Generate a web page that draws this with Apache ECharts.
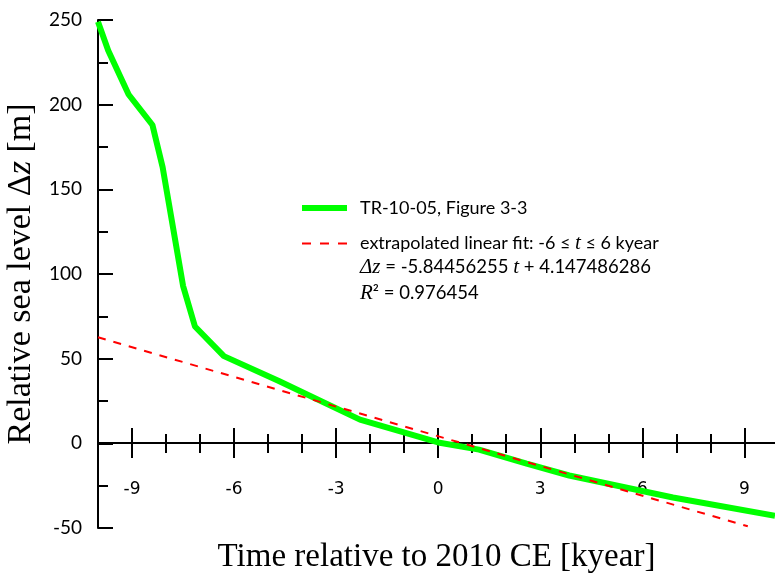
<!DOCTYPE html>
<html>
<head>
<meta charset="utf-8">
<script src="https://cdn.jsdelivr.net/npm/echarts@6/dist/echarts.min.js"></script>
<style>
  html, body { margin: 0; padding: 0; background: #fff; }
  #main { width: 775px; height: 575px; }
</style>
</head>
<body>
<div id="main"></div>
<script>
// sea level curve: [t kyear, dz m]
const trCurve = [
  [-10, 249], [-9.7, 232], [-9.1, 206], [-8.4, 188], [-8.1, 163],
  [-7.5, 93], [-7.15, 69], [-6.3, 51.5], [-4.7, 37], [-2.3, 14],
  [0, 0.5], [1.2, -3.7], [2.6, -12], [3.85, -19], [6.9, -32], [9.9, -42.8]
]
// dashed linear fit, two end points
const fitLine = [[-10, 62.6], [9.1, -49]]

const xMajor = [-9, -6, -3, 0, 3, 6, 9]
const xMinor = [-8, -7, -5, -4, -2, -1, 1, 2, 4, 5, 7, 8]
const yTicks = { min: -50, max: 250, step: 50 }
const xRange = { min: -10, max: 9.9 }

const chart = echarts.init(document.getElementById('main'))

// grid 0 = plot, grid 1 = strip between y=0 and y=-50 whose top edge is the zero line.
// The visible x axis lives on the top edge of grid 1 (ticks up + down).
function tickAxis(inside, len, vals, showLine) {
  return {
    type: 'value',
    gridIndex: 1,
    position: 'top',
    min: xRange.min,
    max: xRange.max,
    axisLine: { show: showLine, onZero: false, lineStyle: { color: '#000', width: 2 } },
    axisTick: { show: true, inside: inside, length: len, customValues: vals, lineStyle: { color: '#000', width: 2 } },
    axisLabel: { show: false },
    splitLine: { show: false }
  }
}

const labelAxis = tickAxis(false, 15, xMajor, true)
labelAxis.axisLabel = {
  show: true,
  inside: true,
  customValues: xMajor,
  margin: 38,
  color: '#000',
  fontFamily: 'DejaVu Sans',
  fontSize: 17
}

const legendRich = {
  n: { fontFamily: 'Lato', fontSize: 18, color: '#000' },
  i: { fontFamily: 'Liberation Serif', fontStyle: 'italic', fontSize: 21, color: '#000' }
}
const eqRich = {
  n: { fontFamily: 'Lato', fontSize: 18.5, fill: '#000' },
  i: { fontFamily: 'Liberation Serif', fontStyle: 'italic', fontSize: 21, fill: '#000' }
}

const option = {
  animation: false,
  backgroundColor: '#fff',
  grid: [
    { left: 98, right: 0, top: 20, bottom: 47, containLabel: false, outerBoundsMode: 'none' },
    { left: 98, right: 0, top: 443, bottom: 47, containLabel: false, outerBoundsMode: 'none' }
  ],
  xAxis: [
    { type: 'value', gridIndex: 0, min: xRange.min, max: xRange.max, show: false },
    labelAxis,
    tickAxis(true, 15, xMajor, false),
    tickAxis(false, 9, xMinor, false),
    tickAxis(true, 10, xMinor, false),
    {
      // only carries the axis title under the strip
      type: 'value',
      gridIndex: 1,
      position: 'bottom',
      min: xRange.min,
      max: xRange.max,
      axisLine: { show: false, onZero: false },
      axisTick: { show: false },
      axisLabel: { show: false },
      splitLine: { show: false },
      name: 'Time relative to 2010 CE [kyear]',
      nameLocation: 'middle',
      nameGap: 13,
      nameTextStyle: { color: '#000', fontFamily: 'Liberation Serif', fontSize: 33, verticalAlign: 'top' }
    }
  ],
  yAxis: [
    {
      type: 'value',
      gridIndex: 0,
      min: yTicks.min,
      max: yTicks.max,
      interval: yTicks.step,
      axisLine: { show: true, onZero: false, lineStyle: { color: '#000', width: 2 } },
      axisTick: { show: true, inside: true, length: 15, lineStyle: { color: '#000', width: 2 } },
      minorTick: { show: true, splitNumber: 2, length: 10, lineStyle: { color: '#000', width: 2 } },
      splitLine: { show: false },
      axisLabel: { margin: 16, color: '#000', fontFamily: 'Lato', fontSize: 19 },
      name: '{n|Relative sea level Δ}{i|z}{n| [m]}',
      nameLocation: 'middle',
      nameGap: 53,
      nameTextStyle: {
        rich: {
          n: { fontFamily: 'Liberation Serif', fontSize: 34, color: '#000' },
          i: { fontFamily: 'Liberation Serif', fontStyle: 'italic', fontSize: 34, color: '#000' }
        }
      }
    },
    { type: 'value', gridIndex: 1, min: 0, max: 1, show: false }
  ],
  legend: {
    orient: 'vertical',
    left: 299,
    top: 199,
    padding: 0,
    itemWidth: 45,
    itemHeight: 14,
    itemGap: 16,
    textStyle: {
      fontFamily: 'Lato',
      fontSize: 18,
      color: '#000',
      padding: [0, 0, 0, 8],
      rich: legendRich
    },
    formatter: function (name) {
      if (name.indexOf('extrapolated') === 0) {
        return '{n|extrapolated linear fit: -6 ≤ }{i|t}{n| ≤ 6 kyear}'
      }
      return '{n|' + name + '}'
    },
    data: [
      { name: 'TR-10-05, Figure 3-3', itemStyle: { opacity: 0 }, lineStyle: { width: 6 } },
      { name: 'extrapolated linear fit', itemStyle: { opacity: 0 }, lineStyle: { width: 2, type: [9, 9] } }
    ]
  },
  graphic: [
    {
      type: 'text',
      left: 360,
      top: 257,
      style: { text: '{i|Δz}{n| = -5.84456255 }{i|t}{n| + 4.147486286}', rich: eqRich }
    },
    {
      type: 'text',
      left: 360,
      top: 283,
      style: { text: '{i|R}{n|² = 0.976454}', rich: eqRich }
    }
  ],
  series: [
    {
      name: 'TR-10-05, Figure 3-3',
      type: 'line',
      xAxisIndex: 0,
      yAxisIndex: 0,
      showSymbol: false,
      symbol: 'none',
      lineStyle: { color: '#00ff00', width: 6 },
      itemStyle: { color: '#00ff00' },
      data: trCurve
    },
    {
      name: 'extrapolated linear fit',
      type: 'line',
      xAxisIndex: 0,
      yAxisIndex: 0,
      showSymbol: false,
      symbol: 'none',
      lineStyle: { color: '#ff0000', width: 2, type: [8, 8] },
      itemStyle: { color: '#ff0000' },
      data: fitLine
    }
  ]
}

chart.setOption(option)
</script>
</body>
</html>
